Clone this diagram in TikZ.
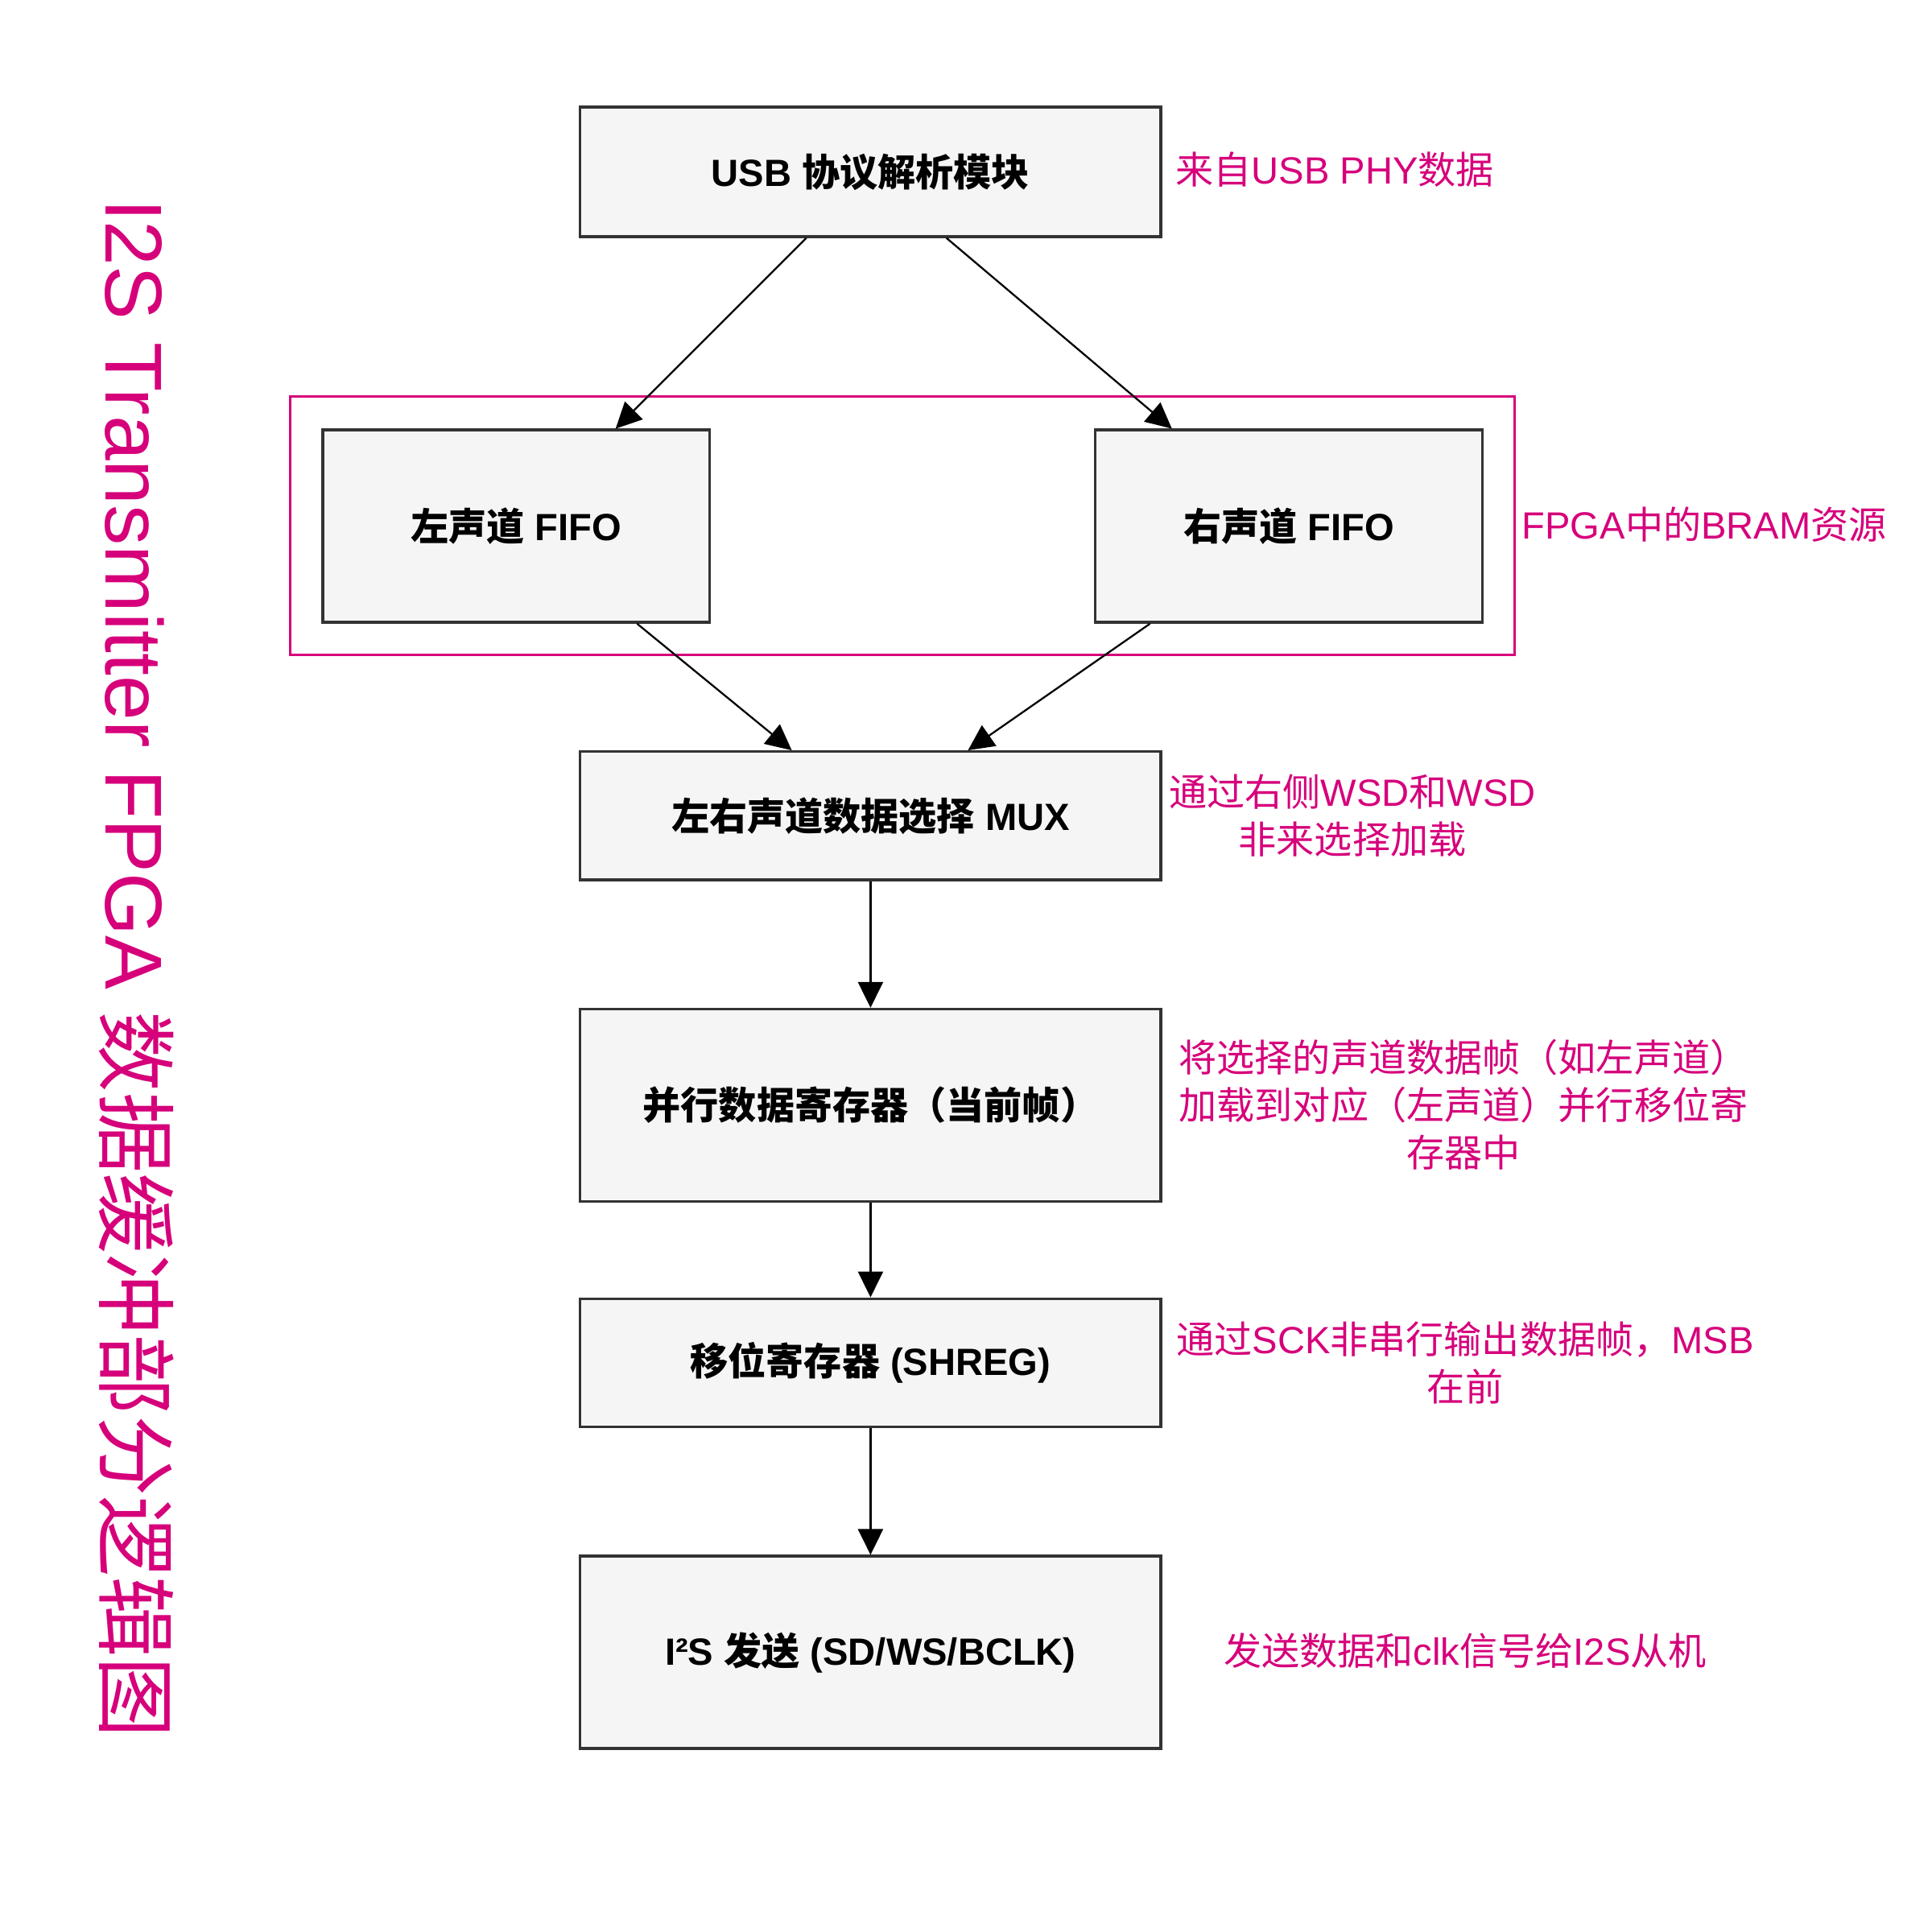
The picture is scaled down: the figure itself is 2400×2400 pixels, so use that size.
\documentclass[tikz,border=0pt]{standalone}
\usepackage{fontspec}
\setmainfont{Liberation Sans}
\newfontfamily\cjk{Noto Sans CJK SC}
\usetikzlibrary{arrows.meta,calc}
\definecolor{mag}{RGB}{214,0,123}
\definecolor{boxfill}{HTML}{F5F5F5}
\definecolor{boxline}{HTML}{333333}
\tikzset{
  blk/.style={draw=boxline,fill=boxfill,line width=0.95pt,rectangle,inner sep=0pt,
    minimum width=7.21cm,font=\fontsize{13.4}{17}\selectfont\bfseries,align=center},
  note/.style={text=mag,font=\fontsize{13.4}{16.8}\selectfont,align=center,inner sep=0pt},
  conn/.style={line width=0.65pt,-{Triangle[length=0.32cm,width=0.31cm]}}
}
\begin{document}
\begin{tikzpicture}[x=0.01cm,y=-0.01cm]
\path[use as bounding box] (0,0) rectangle (2400,2400);
% group frame
\node[draw=mag,line width=0.9pt,minimum width=15.2cm,minimum height=3.2cm,inner sep=0pt] (grp) at (1121,653) {};
% boxes
\node[blk,minimum height=1.607cm] (usb) at (1081.4,213.5) {USB {\cjk 协议解析模块}};
\node[blk,minimum width=4.806cm,minimum height=2.388cm] (lf) at (641.3,653.6) {{\cjk 左声道} FIFO};
\node[blk,minimum width=4.806cm,minimum height=2.388cm] (rf) at (1601,653.6) {{\cjk 右声道} FIFO};
\node[blk,minimum height=1.591cm] (mux) at (1081.4,1013.3) {{\cjk 左右声道数据选择} MUX};
\node[blk,minimum height=2.388cm] (par) at (1081.4,1373) {{\cjk 并行数据寄存器（当前帧）}};
\node[blk,minimum height=1.592cm] (shr) at (1081.4,1692.9) {{\cjk 移位寄存器} (SHREG)};
\node[blk,minimum height=2.388cm] (i2s) at (1081.4,2052.6) {I²S {\cjk 发送} (SD/WS/BCLK)};
% connectors
\draw[conn] ($(usb.south west)!0.39!(usb.south east)$) -- ($(lf.north west)!0.755!(lf.north east)$);
\draw[conn] ($(usb.south west)!0.63!(usb.south east)$) -- ($(rf.north west)!0.2!(rf.north east)$);
\draw[conn] ($(lf.south west)!0.81!(lf.south east)$) -- ($(mux.north west)!0.365!(mux.north east)$);
\draw[conn] ($(rf.south west)!0.144!(rf.south east)$) -- ($(mux.north west)!0.667!(mux.north east)$);
\draw[conn] (mux.south) -- (par.north);
\draw[conn] (par.south) -- (shr.north);
\draw[conn] (shr.south) -- (i2s.north);
% notes
\node[note,anchor=west] (n1) at (1460,211) {{\cjk 来自}USB PHY{\cjk 数据}};
\node[note,anchor=west] (n2) at (1890,652) {FPGA{\cjk 中的}BRAM{\cjk 资源}};
\node[note] (n3) at (1680,1013) {{\cjk 通过右侧}WSD{\cjk 和}WSD\\{\cjk 非来选择加载}};
\node[note] (n4) at (1818,1372) {{\cjk 将选择的声道数据帧（如左声道）}\\{\cjk 加载到对应（左声道）并行移位寄}\\{\cjk 存器中}};
\node[note] (n5) at (1820,1693) {{\cjk 通过}SCK{\cjk 非串行输出数据帧，}MSB\\{\cjk 在前}};
\node[note] (n6) at (1820,2051) {{\cjk 发送数据和}clk{\cjk 信号给}I2S{\cjk 从机}};
% title
\node[text=mag,font=\fontsize{28.5}{33}\selectfont,rotate=-90,inner sep=0pt] (title) at (170,1203) {I2S Transmitter FPGA {\cjk 数据缓冲部分逻辑图}};
\end{tikzpicture}
\end{document}
